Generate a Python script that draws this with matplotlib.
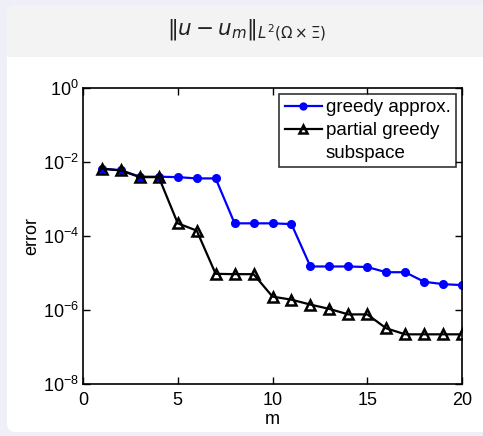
import numpy as np
import matplotlib
matplotlib.use('Agg')
import matplotlib.pyplot as plt
from matplotlib.patches import FancyBboxPatch, Rectangle
from matplotlib.lines import Line2D
from matplotlib.ticker import NullLocator

plt.rcParams['font.family'] = ['Liberation Sans', 'DejaVu Sans']
plt.rcParams['mathtext.fontset'] = 'dejavusans'

m = np.arange(1, 21)
greedy_approx = [6.6e-3, 6.0e-3, 4.0e-3, 4.0e-3, 3.9e-3, 3.6e-3, 3.6e-3,
                 2.2e-4, 2.2e-4, 2.2e-4, 2.1e-4,
                 1.5e-5, 1.5e-5, 1.5e-5, 1.45e-5, 1.05e-5, 1.05e-5,
                 5.8e-6, 5.0e-6, 4.7e-6]
partial_greedy = [6.6e-3, 5.9e-3, 3.9e-3, 3.9e-3, 2.2e-4, 1.4e-4,
                  9.5e-6, 9.3e-6, 9.3e-6, 2.3e-6, 1.9e-6, 1.4e-6, 1.07e-6,
                  7.6e-7, 7.6e-7, 3.2e-7, 2.2e-7, 2.2e-7, 2.2e-7, 2.2e-7]
legend_labels = ['greedy approx.', 'partial greedy', 'subspace']
yticks = [1e-8, 1e-6, 1e-4, 1e-2, 1e0]
ytick_labels = [r'$\mathdefault{10^{-8}}$', r'$\mathdefault{10^{-6}}$',
                r'$\mathdefault{10^{-4}}$', r'$\mathdefault{10^{-2}}$',
                r'$\mathdefault{10^{0}}$']

W, H = 483, 436
fig = plt.figure(figsize=(W / 100, H / 100), dpi=100)
fig.patch.set_facecolor('#efeff8')

# beamer style block (pixel coords -> inches)
px = fig.dpi_scale_trans
def P(v):
    return v / 100.0

body = FancyBboxPatch((P(7), P(H - 432)), P(520), P(427),
                      boxstyle='round,pad=0,rounding_size=0.09',
                      transform=px, facecolor='white', edgecolor='none', zorder=-2)
head = FancyBboxPatch((P(7), P(H - 70)), P(520), P(65),
                      boxstyle='round,pad=0,rounding_size=0.09',
                      transform=px, facecolor='#f3f3f3', edgecolor='none', zorder=-2)
cover = Rectangle((P(7), P(H - 70)), P(520), P(13), transform=px,
                  facecolor='white', edgecolor='none', zorder=-2)
fig.patches.extend([body, head, cover])

fig.text(0.511, 1 - 31 / H, r'$\Vert u - u_m\Vert_{L^2(\Omega\times\Xi)}$',
         ha='center', va='center', fontsize=15.5, color='#222222')

ax = fig.add_axes([83 / W, 1 - 384 / H, (462 - 83) / W, (384 - 88) / H])
ax.set_zorder(2)
ax.set_facecolor('white')

l1, = ax.semilogy(m, greedy_approx, '-o', color='blue', lw=1.6, ms=5.5)
l2, = ax.semilogy(m, partial_greedy, '-^', color='black', lw=1.6, ms=7,
                  mfc='none', mew=1.8)
blank = Line2D([], [], color='none')

ax.set_xlim(0, 20)
ax.set_ylim(1e-8, 1e0)
ax.set_xticks([0, 5, 10, 15, 20])
ax.set_yticks(yticks)
ax.set_yticklabels(ytick_labels)
ax.yaxis.set_minor_locator(NullLocator())
ax.tick_params(direction='in', top=True, right=True, length=5, width=1,
               labelsize=13)
ax.tick_params(axis='x', pad=6)
ax.tick_params(axis='y', pad=3)
for s in ax.spines.values():
    s.set_linewidth(1.2)

ax.set_xlabel('m', fontsize=13, labelpad=1)
ax.set_ylabel('error', fontsize=13, labelpad=2)

leg = ax.legend([l1, l2, blank], legend_labels, loc='upper right',
                fontsize=13.5, frameon=True, fancybox=False,
                edgecolor='black', handlelength=2.0, handletextpad=0.2,
                borderpad=0.3, labelspacing=0.3, borderaxespad=0.3,
                markerscale=0.9)
leg.get_frame().set_linewidth(1.2)

fig.savefig('out.png', dpi=100, facecolor=fig.get_facecolor())
